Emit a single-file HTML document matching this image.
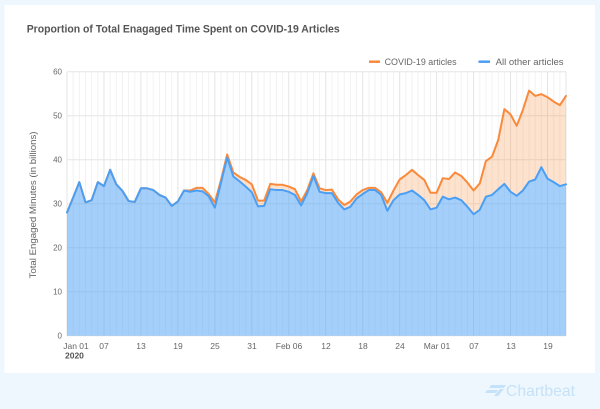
<!DOCTYPE html>
<html><head><meta charset="utf-8"><style>
html,body{margin:0;padding:0;background:#eff7fe;}
svg{display:block;font-family:"Liberation Sans",sans-serif;}
</style></head><body>
<svg width="600" height="409" viewBox="0 0 600 409" xmlns="http://www.w3.org/2000/svg">
<rect x="0" y="0" width="600" height="409" fill="#eff7fe"/>
<rect x="4.5" y="5" width="590.5" height="368" fill="#ffffff"/>
<text x="26.7" y="32.3" font-size="11" font-weight="bold" fill="#555" textLength="313" lengthAdjust="spacingAndGlyphs">Proportion of Total Enagaged Time Spent on COVID-19 Articles</text>

<!-- legend -->
<line x1="369" y1="61.7" x2="380" y2="61.7" stroke="#f98a3c" stroke-width="2.5"/>
<text x="384.6" y="64.8" font-size="9" fill="#666" textLength="72" lengthAdjust="spacingAndGlyphs">COVID-19 articles</text>
<line x1="478.5" y1="61.7" x2="490" y2="61.7" stroke="#4a9ff5" stroke-width="2.5"/>
<text x="495.6" y="64.8" font-size="9" fill="#666" textLength="68" lengthAdjust="spacingAndGlyphs">All other articles</text>

<g transform="translate(67,335.7) scale(6.1605,-4.4)">
  <!-- minor vertical grid -->
  <g stroke="#f2f2f2" stroke-width="1" vector-effect="non-scaling-stroke">
    <path vector-effect="non-scaling-stroke" d="M1,0V60M2,0V60M3,0V60M4,0V60M5,0V60M7,0V60M8,0V60M9,0V60M10,0V60M11,0V60M13,0V60M14,0V60M15,0V60M16,0V60M17,0V60M19,0V60M20,0V60M21,0V60M22,0V60M23,0V60M25,0V60M26,0V60M27,0V60M28,0V60M29,0V60M31,0V60M32,0V60M33,0V60M34,0V60M35,0V60M37,0V60M38,0V60M39,0V60M40,0V60M41,0V60M43,0V60M44,0V60M45,0V60M46,0V60M47,0V60M49,0V60M50,0V60M51,0V60M52,0V60M53,0V60M55,0V60M56,0V60M57,0V60M58,0V60M59,0V60M61,0V60M62,0V60M63,0V60M64,0V60M65,0V60M67,0V60M68,0V60M69,0V60M70,0V60M71,0V60M73,0V60M74,0V60M75,0V60M76,0V60M77,0V60M79,0V60M80,0V60"/>
  </g>
  <!-- major vertical grid -->
  <path vector-effect="non-scaling-stroke" stroke="#e4e4e4" stroke-width="1" d="M0,0V60M6,0V60M12,0V60M18,0V60M24,0V60M30,0V60M36,0V60M42,0V60M48,0V60M54,0V60M60,0V60M66,0V60M72,0V60M78,0V60M81,0V60"/>
  <!-- horizontal grid -->
  <path vector-effect="non-scaling-stroke" stroke="#e6e6e6" stroke-width="1" d="M0,0H81M0,10H81M0,20H81M0,30H81M0,40H81M0,50H81M0,60H81"/>

  <!-- orange stacked area -->
  <polygon fill="#f98a3c" fill-opacity="0.25" points="0,28 1,31.4 2,34.9 3,30.3 4,30.8 5,34.9 6,34 7,37.7 8,34.4 9,32.9 10,30.6 11,30.4 12,33.5 13,33.5 14,33.1 15,32 16,31.4 17,29.5 18,30.5 19,33 20,33 21,33.6 22,33.6 23,32.2 24,30.3 25,35.4 26,41.2 27,37.1 28,36.1 29,35.4 30,34.4 31,30.7 32,30.7 33,34.5 34,34.3 35,34.3 36,33.9 37,33.3 38,30.5 39,33.1 40,36.9 41,33.5 42,33.1 43,33.2 44,31 45,29.7 46,30.5 47,32.1 48,33.1 49,33.6 50,33.6 51,32.6 52,30.2 53,33 54,35.5 55,36.5 56,37.7 57,36.5 58,35.4 59,32.5 60,32.5 61,35.8 62,35.6 63,37.1 64,36.3 65,34.8 66,33 67,34.6 68,39.7 69,40.7 70,44.5 71,51.5 72,50.3 73,47.7 74,51.3 75,55.7 76,54.5 77,54.9 78,54.2 79,53.2 80,52.4 81,54.5 81,34.4 80,34 79,34.9 78,35.7 77,38.3 76,35.5 75,35 74,33 73,31.8 72,32.7 71,34.5 70,33.3 69,32 68,31.6 67,28.6 66,27.6 65,29.3 64,30.8 63,31.4 62,31 61,31.6 60,29.1 59,28.7 58,30.8 57,32 56,33 55,32.4 54,32.1 53,30.8 52,28.4 51,32 50,33.1 49,33.1 48,32.2 47,31.2 46,29.3 45,28.7 44,30.2 43,32.4 42,32.4 41,32.7 40,36.3 39,32.4 38,29.6 37,32 36,32.7 35,33.1 34,33.1 33,33.3 32,29.5 31,29.4 30,32.6 29,33.9 28,35.1 27,36.2 26,40.5 25,34.8 24,29.1 23,31.7 22,32.8 21,33 20,32.7 19,33 18,30.5 17,29.5 16,31.4 15,32 14,33.1 13,33.5 12,33.5 11,30.4 10,30.6 9,32.9 8,34.4 7,37.7 6,34 5,34.9 4,30.8 3,30.3 2,34.9 1,31.4 0,28"/>

  <!-- blue area -->
  <polygon fill="#4a9ff5" fill-opacity="0.5" points="0,0 0,28 1,31.4 2,34.9 3,30.3 4,30.8 5,34.9 6,34 7,37.7 8,34.4 9,32.9 10,30.6 11,30.4 12,33.5 13,33.5 14,33.1 15,32 16,31.4 17,29.5 18,30.5 19,33 20,32.7 21,33 22,32.8 23,31.7 24,29.1 25,34.8 26,40.5 27,36.2 28,35.1 29,33.9 30,32.6 31,29.4 32,29.5 33,33.3 34,33.1 35,33.1 36,32.7 37,32 38,29.6 39,32.4 40,36.3 41,32.7 42,32.4 43,32.4 44,30.2 45,28.7 46,29.3 47,31.2 48,32.2 49,33.1 50,33.1 51,32 52,28.4 53,30.8 54,32.1 55,32.4 56,33 57,32 58,30.8 59,28.7 60,29.1 61,31.6 62,31 63,31.4 64,30.8 65,29.3 66,27.6 67,28.6 68,31.6 69,32 70,33.3 71,34.5 72,32.7 73,31.8 74,33 75,35 76,35.5 77,38.3 78,35.7 79,34.9 80,34 81,34.4 81,0"/>

  <!-- orange line -->
  <polyline fill="none" stroke="#f98a3c" stroke-width="2" stroke-linejoin="round" stroke-linecap="round" vector-effect="non-scaling-stroke" points="0,28 1,31.4 2,34.9 3,30.3 4,30.8 5,34.9 6,34 7,37.7 8,34.4 9,32.9 10,30.6 11,30.4 12,33.5 13,33.5 14,33.1 15,32 16,31.4 17,29.5 18,30.5 19,33 20,33 21,33.6 22,33.6 23,32.2 24,30.3 25,35.4 26,41.2 27,37.1 28,36.1 29,35.4 30,34.4 31,30.7 32,30.7 33,34.5 34,34.3 35,34.3 36,33.9 37,33.3 38,30.5 39,33.1 40,36.9 41,33.5 42,33.1 43,33.2 44,31 45,29.7 46,30.5 47,32.1 48,33.1 49,33.6 50,33.6 51,32.6 52,30.2 53,33 54,35.5 55,36.5 56,37.7 57,36.5 58,35.4 59,32.5 60,32.5 61,35.8 62,35.6 63,37.1 64,36.3 65,34.8 66,33 67,34.6 68,39.7 69,40.7 70,44.5 71,51.5 72,50.3 73,47.7 74,51.3 75,55.7 76,54.5 77,54.9 78,54.2 79,53.2 80,52.4 81,54.5"/>

  <!-- blue line -->
  <polyline fill="none" stroke="#4a9ff5" stroke-width="2" stroke-linejoin="round" stroke-linecap="round" vector-effect="non-scaling-stroke" points="0,28 1,31.4 2,34.9 3,30.3 4,30.8 5,34.9 6,34 7,37.7 8,34.4 9,32.9 10,30.6 11,30.4 12,33.5 13,33.5 14,33.1 15,32 16,31.4 17,29.5 18,30.5 19,33 20,32.7 21,33 22,32.8 23,31.7 24,29.1 25,34.8 26,40.5 27,36.2 28,35.1 29,33.9 30,32.6 31,29.4 32,29.5 33,33.3 34,33.1 35,33.1 36,32.7 37,32 38,29.6 39,32.4 40,36.3 41,32.7 42,32.4 43,32.4 44,30.2 45,28.7 46,29.3 47,31.2 48,32.2 49,33.1 50,33.1 51,32 52,28.4 53,30.8 54,32.1 55,32.4 56,33 57,32 58,30.8 59,28.7 60,29.1 61,31.6 62,31 63,31.4 64,30.8 65,29.3 66,27.6 67,28.6 68,31.6 69,32 70,33.3 71,34.5 72,32.7 73,31.8 74,33 75,35 76,35.5 77,38.3 78,35.7 79,34.9 80,34 81,34.4"/>
</g>

<!-- y labels -->
<g font-size="8" fill="#666" text-anchor="end">
  <text x="62" y="338.5">0</text>
  <text x="62" y="294.5">10</text>
  <text x="62" y="250.5">20</text>
  <text x="62" y="206.5">30</text>
  <text x="62" y="162.5">40</text>
  <text x="62" y="118.5">50</text>
  <text x="62" y="74.5">60</text>
</g>
<text transform="translate(36,205) rotate(-90)" text-anchor="middle" font-size="9.5" fill="#666" textLength="147" lengthAdjust="spacingAndGlyphs">Total Engaged Minutes (in billions)</text>

<!-- x labels -->
<g font-size="8.5" fill="#666" text-anchor="middle">
  <text x="76" y="348.8">Jan 01</text>
  <text x="104" y="348.8">07</text>
  <text x="141" y="348.8">13</text>
  <text x="178" y="348.8">19</text>
  <text x="215" y="348.8">25</text>
  <text x="252" y="348.8">31</text>
  <text x="289" y="348.8">Feb 06</text>
  <text x="326" y="348.8">12</text>
  <text x="363" y="348.8">18</text>
  <text x="400" y="348.8">24</text>
  <text x="437" y="348.8">Mar 01</text>
  <text x="474" y="348.8">07</text>
  <text x="511" y="348.8">13</text>
  <text x="548" y="348.8">19</text>
</g>
<text x="65" y="358.5" font-size="8.5" font-weight="bold" fill="#555">2020</text>

<!-- Chartbeat logo -->
<g fill="#c5e2f8">
  <polygon points="491,385 506,385 504,388 489,388"/>
  <polygon points="487,390 498,390 496,393 485,393"/>
  <polygon points="500,389 504,389 498,396 494,396"/>
</g>
<text x="506" y="396" font-size="16" fill="#c5e2f8" textLength="69" lengthAdjust="spacingAndGlyphs">Chartbeat</text>
</svg>
</body></html>
